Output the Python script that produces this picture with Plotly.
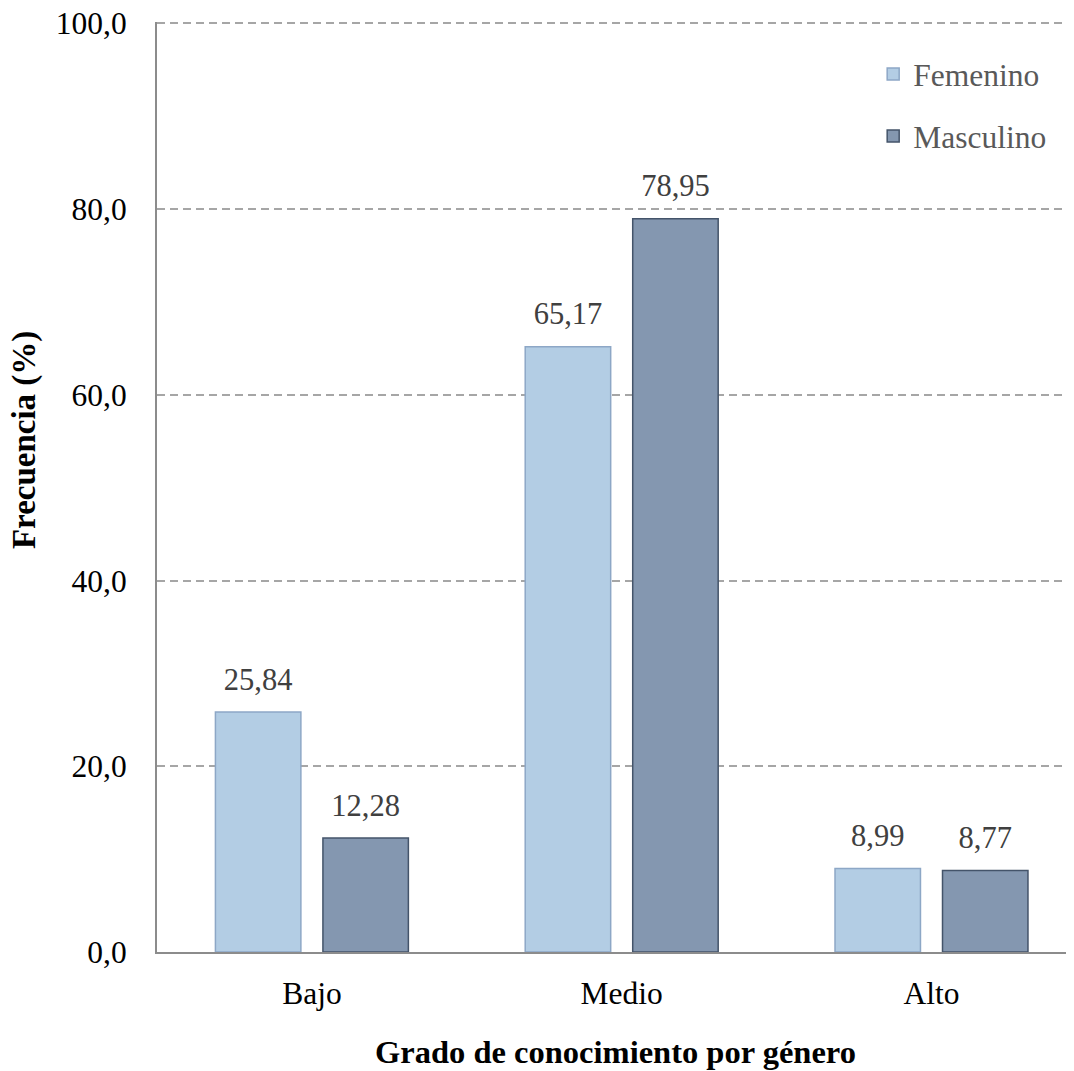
import plotly.graph_objects as go

categories = ["Bajo", "Medio", "Alto"]
femenino = [25.84, 65.17, 8.99]
masculino = [12.28, 78.95, 8.77]
y_ticks = [0, 20, 40, 60, 80, 100]

FONT = "Liberation Serif, Times New Roman, serif"

def fmt(vals):
    return [f"{v:.2f}".replace(".", ",") for v in vals]

fig = go.Figure()
fig.add_trace(go.Bar(
    name="Femenino", x=categories, y=femenino,
    marker=dict(color="#B3CDE4", line=dict(color="#8DA7C6", width=1.5)),
    legendgroup="f", offsetgroup="f", hoverinfo="x+y",
))
fig.add_trace(go.Bar(
    name="Masculino", x=categories, y=masculino,
    marker=dict(color="#8497B0", line=dict(color="#44546A", width=1.5)),
    legendgroup="m", offsetgroup="m", hoverinfo="x+y",
))
for vals, grp in [(femenino, "f"), (masculino, "m")]:
    fig.add_trace(go.Scatter(
        x=categories, y=vals, text=fmt(vals), mode="markers+text",
        marker=dict(size=22, opacity=0), textposition="top center",
        textfont=dict(family=FONT, size=30.5, color="#404040"),
        offsetgroup=grp, showlegend=False, hoverinfo="skip", cliponaxis=False,
    ))

fig.update_layout(
    width=1074, height=1071,
    margin=dict(l=149, r=8, t=14, b=127),
    plot_bgcolor="white", paper_bgcolor="white",
    barmode="group", bargap=0.306, bargroupgap=0.205,
    scattermode="group", scattergap=0.306,
    separators=",.",
    font=dict(family=FONT, size=31, color="black"),
    legend=dict(
        x=0.781, y=0.973, xanchor="left", yanchor="top",
        font=dict(family=FONT, size=31.5, color="#595959"),
        traceorder="grouped", tracegroupgap=18,
        bgcolor="rgba(0,0,0,0)",
    ),
    xaxis=dict(
        range=[-0.5, 2.46], automargin=False,
        showline=True, linecolor="#8C8C8C", linewidth=2,
        ticks="", showgrid=False, ticklabelstandoff=12,
        tickfont=dict(family=FONT, size=31.5, color="black"),
        title=dict(text="<b>Grado de conocimiento por género</b>",
                   font=dict(family=FONT, size=32.5, color="black"), standoff=30),
    ),
    yaxis=dict(
        range=[0, 100.15], tickvals=y_ticks, tickformat=".1f", automargin=False,
        showline=True, linecolor="#8C8C8C", linewidth=2,
        showgrid=True, gridcolor="#A6A6A6", griddash="8px,5px", gridwidth=1.5,
        zeroline=False, ticklabeloverflow="allow",
        ticks="", ticklabelstandoff=22,
        tickfont=dict(family=FONT, size=31.5, color="black"),
    ),
    annotations=[dict(
        text="<b>Frecuencia (%)</b>", textangle=-90,
        xref="paper", yref="paper", x=-0.145, y=0.5505,
        xanchor="center", yanchor="middle", showarrow=False,
        font=dict(family=FONT, size=33, color="black"),
    )],
)

fig.write_html("out.html")
